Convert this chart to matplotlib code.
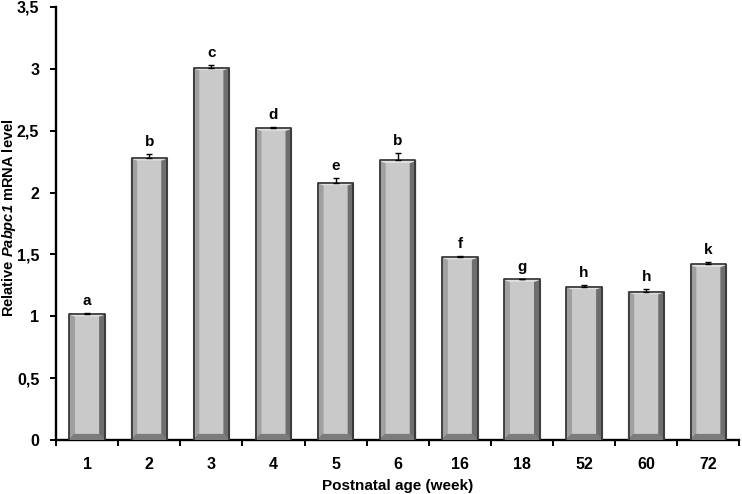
import matplotlib.pyplot as plt
import numpy as np

# data
ages = ['1', '2', '3', '4', '5', '6', '16', '18', '52', '60', '72']
levels = [1.02, 2.28, 3.01, 2.52, 2.08, 2.26, 1.48, 1.30, 1.24, 1.20, 1.42]
errors = [0.01, 0.03, 0.02, 0.01, 0.04, 0.06, 0.01, 0.005, 0.01, 0.02, 0.02]
letters = ['a', 'b', 'c', 'd', 'e', 'b', 'f', 'g', 'h', 'h', 'k']

plt.rcParams['font.family'] = ['Liberation Sans', 'DejaVu Sans']
plt.rcParams['font.weight'] = 'bold'
# mathtext only used for the italic gene name
plt.rcParams['mathtext.fontset'] = 'custom'
plt.rcParams['mathtext.it'] = 'Liberation Sans:italic:bold'
plt.rcParams['mathtext.rm'] = 'Liberation Sans:italic:bold'

fig = plt.figure(figsize=(7.42, 4.94), dpi=100)
ax = fig.add_axes([0.0755, 0.109, 0.921, 0.877])

x = np.arange(len(ages))
width = 0.57
bx = 0.08   # side bevel width (x units)
by = 0.045  # bottom bevel height (y units)
bt = 0.015  # top bevel height

for xi, h in zip(x, levels):
    x0, x1 = xi - width / 2, xi + width / 2
    # face
    ax.fill([x0, x1, x1, x0], [0, 0, h, h], color='#c9c9c9', zorder=2)
    # left bevel
    ax.fill([x0, x0 + bx, x0 + bx, x0], [0, by, h - bt, h], color='#a0a0a0', zorder=3)
    # right bevel
    ax.fill([x1, x1 - bx, x1 - bx, x1], [0, by, h - bt, h], color='#6e6e6e', zorder=3)
    # bottom bevel
    ax.fill([x0, x1, x1 - bx, x0 + bx], [0, 0, by, by], color='#7c7c7c', zorder=3)
    # top bevel
    ax.fill([x0, x1, x1 - bx, x0 + bx], [h, h, h - bt, h - bt], color='#e0e0e0', zorder=3)
    # outline
    ax.plot([x0, x0, x1, x1], [0, h, h, 0], color='#303030', lw=1.2, zorder=4)

ax.errorbar(x, levels, yerr=[[0] * len(errors), errors], fmt='none', ecolor='black',
            elinewidth=1, capsize=2, capthick=1, zorder=5)

for xi, h, e, t in zip(x, levels, errors, letters):
    ax.text(xi, h + e + 0.04, t, ha='center', va='bottom', fontsize=11, fontweight='bold')

ax.set_xlim(-0.5, len(ages) - 0.5)
ax.set_ylim(0, 3.5)
ax.set_yticks(np.arange(0, 3.51, 0.5))
ax.set_yticklabels(['0', '0,5', '1', '1,5', '2', '2,5', '3', '3,5'])
ax.set_xticks(x)
ax.set_xticklabels(ages)
ax.set_xticks(np.arange(-0.5, len(ages), 1), minor=True)
ax.tick_params(axis='x', which='major', length=0, pad=12, labelsize=11.5)
ax.tick_params(axis='x', which='minor', length=4, width=1.4, direction='out')
ax.tick_params(axis='y', length=4, width=1.4, direction='out', pad=8, labelsize=11.5)
for lab in ax.get_xticklabels() + ax.get_yticklabels():
    lab.set_fontweight('bold')

for s in ['top', 'right']:
    ax.spines[s].set_visible(False)
for s in ['left', 'bottom']:
    ax.spines[s].set_linewidth(1.7)

ax.set_xlabel('Postnatal age (week)', fontsize=11, fontweight='bold')
ax.xaxis.set_label_coords(0.5, -0.09)
fig.text(9 / 742, 1 - 218 / 494, r'Relative $\mathit{Pabpc1}$ mRNA level', rotation=90,
         ha='center', va='center', fontsize=10.5, fontweight='bold')

plt.savefig('out.png', dpi=100)
